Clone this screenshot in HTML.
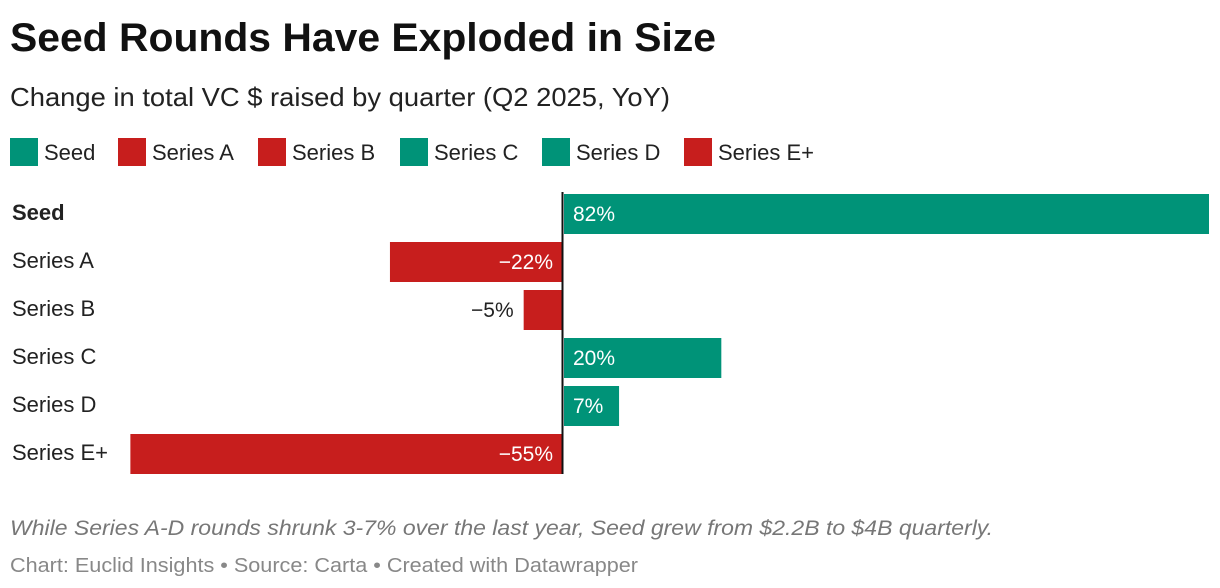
<!DOCTYPE html>
<html><head><meta charset="utf-8"><style>
html,body{margin:0;padding:0;background:#fff;}
svg{display:block;font-family:"Liberation Sans",Arial,sans-serif;}
</style></head><body>
<svg id="chart" width="1220" height="588" viewBox="0 0 1220 588">
<text x="10" y="51" font-size="40" font-weight="bold" fill="#111" textLength="706" lengthAdjust="spacingAndGlyphs">Seed Rounds Have Exploded in Size</text>
<text x="10" y="106" font-size="26" fill="#222" textLength="660" lengthAdjust="spacingAndGlyphs">Change in total VC $ raised by quarter (Q2 2025, YoY)</text>
<g id="legend"></g>
<g id="bars"></g>
<text x="10" y="535" font-size="21" font-style="italic" fill="#777" textLength="983" lengthAdjust="spacingAndGlyphs">While Series A-D rounds shrunk 3-7% over the last year, Seed grew from $2.2B to $4B quarterly.</text>
<text x="10" y="572" font-size="20" fill="#888" textLength="628" lengthAdjust="spacingAndGlyphs">Chart: Euclid Insights • Source: Carta • Created with Datawrapper</text>
</svg>
<script>
const categories = ["Seed","Series A","Series B","Series C","Series D","Series E+"];
const values = [82,-22,-5,20,7,-55];
const legendLabels = ["Seed","Series A","Series B","Series C","Series D","Series E+"];
const legendX = [10,118,258,400,542,684];

const NS="http://www.w3.org/2000/svg";
const GREEN="#009378", RED="#c71e1d";
const x0=563, scale=645/82;
const xs=v=>x0+v*scale;
const yTop=194, step=48, bh=40;
function mk(tag,attrs,parent){const e=document.createElementNS(NS,tag);for(const k in attrs)e.setAttribute(k,attrs[k]);parent.appendChild(e);return e;}
const lg=document.getElementById('legend');
legendLabels.forEach((l,i)=>{
  const c=values[i]>=0?GREEN:RED;
  const r=mk('rect',{x:legendX[i],y:138,width:28,height:28,fill:c},lg);
  
  
  const t=mk('text',{x:legendX[i]+34,y:160,'font-size':22,fill:'#222'},lg);
  t.textContent=l;
  
  
});
const g=document.getElementById('bars');
categories.forEach((c,i)=>{
  const v=values[i], y=yTop+i*step;
  const lab=mk('text',{x:12,y:y+bh/2+6,'font-size':22,fill:'#222','font-weight':i===0?'bold':'normal'},g);
  lab.textContent=c;
  
  
  const a=Math.min(xs(v),x0), w=Math.abs(xs(v)-x0);
  const r=mk('rect',{x:v>=0?a+1:a,y:y,width:w,height:bh,fill:v>=0?GREEN:RED},g);
  
  
  const txt=(v<0?'\u2212':'')+Math.abs(v)+'%';
  const inside=w>50;
  let attrs={y:y+bh/2+7,'font-size':21};
  if(v>=0){attrs.x=inside?x0+10:xs(v)+8;attrs.fill=inside?'#fff':'#222';}
  else{attrs.x=inside?x0-10:xs(v)-10;attrs['text-anchor']='end';attrs.fill=inside?'#fff':'#222';}
  const t=mk('text',attrs,g);
  t.textContent=txt;
  
  
});
const zl=mk('line',{x1:x0-0.5,x2:x0-0.5,y1:192,y2:474,stroke:'#111','stroke-width':2},g);


</script>
</body></html>
